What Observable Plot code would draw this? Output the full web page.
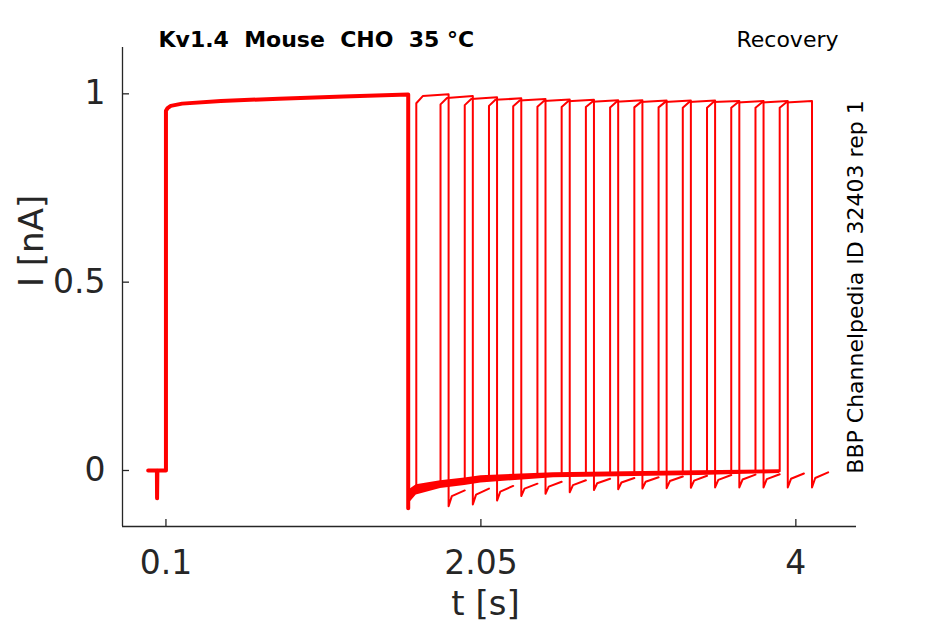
<!DOCTYPE html>
<html><head><meta charset="utf-8">
<script src="https://cdn.jsdelivr.net/npm/d3@7"></script>
<script src="https://cdn.jsdelivr.net/npm/@observablehq/plot@0.6"></script>
<style>
html,body{margin:0;padding:0;background:#fff;}
svg text{white-space:pre;}
</style></head><body><div id="chart"></div>
<script>
// ---- axes ----
const xTicks = [0.1, 2.05, 4];
const yTicks = [0, 0.5, 1];
const xTickLabels = ["0.1", "2.05", "4"];
const yTickLabels = ["0", "0.5", "1"];
const xDomain = [-0.169, 4.3755];
const yDomain = [-0.1487, 1.123];

// ---- holding level + conditioning pulse (shared by every sweep) ----
const pulse1T = [-0.01, 0.044, 0.045, 0.047, 0.1, 0.1, 0.11, 0.13, 0.2, 0.44, 0.8, 1.2, 1.6];
const pulse1I = [0, 0, -0.074, 0, 0, 0.955, 0.962, 0.968, 0.974, 0.981, 0.987, 0.993, 0.998];

// ---- tail after the conditioning pulse (each sweep keeps it up to its test pulse) ----
const tailT = [1.6, 1.604, 1.612, 1.625, 1.65, 1.7, 1.8, 1.95, 2.1, 2.25, 2.4, 2.55, 2.7, 2.85, 3.0, 3.15, 3.3, 3.45, 3.6, 3.75, 3.9];
const tailI = [-0.1, -0.08, -0.07, -0.062, -0.053, -0.045, -0.037, -0.03, -0.022, -0.018, -0.015, -0.012, -0.01, -0.009, -0.008, -0.007, -0.006, -0.005, -0.004, -0.003, -0.002];

// ---- noise envelope of the overlapping tails ----
const bandT  = [1.6, 1.61, 1.65, 1.8, 1.95, 2.05, 2.5, 3.4, 3.9];
const bandLo = [-0.1, -0.085, -0.065, -0.048, -0.04, -0.033, -0.019, -0.013, -0.008];
const bandHi = [-0.06, -0.05, -0.038, -0.027, -0.02, -0.014, -0.006, -0.001, 0.002];

// ---- test pulses (one per sweep) ----
const testStart = [1.65, 1.8, 1.95, 2.1, 2.25, 2.4, 2.55, 2.7, 2.85, 3.0, 3.15, 3.3, 3.45, 3.6, 3.75, 3.9];
const testOffset = [0, 0.04, 0.2];
const testI0 = [0.975, 0.972, 0.97, 0.968, 0.967, 0.966, 0.965, 0.965, 0.964, 0.964, 0.964, 0.963, 0.963, 0.963, 0.963, 0.963];
const testI1 = [0.994, 0.989, 0.986, 0.984, 0.982, 0.981, 0.98, 0.979, 0.979, 0.978, 0.978, 0.978, 0.978, 0.977, 0.977, 0.977];
const testI2 = [0.999, 0.994, 0.991, 0.988, 0.986, 0.985, 0.984, 0.983, 0.983, 0.982, 0.982, 0.982, 0.981, 0.981, 0.981, 0.981];

// ---- tail after each test pulse ----
const hookOffset = [0.2, 0.22, 0.3];
const hookBottom = [-0.095, -0.09, -0.08, -0.068, -0.062, -0.058, -0.052, -0.05, -0.048, -0.047, -0.046, -0.045, -0.045, -0.045, -0.045, -0.045];
const hookMid    = [-0.068, -0.064, -0.056, -0.048, -0.043, -0.039, -0.034, -0.032, -0.03, -0.028, -0.027, -0.025, -0.024, -0.023, -0.022, -0.02];
const hookEnd    = [-0.053, -0.048, -0.041, -0.035, -0.03, -0.026, -0.022, -0.02, -0.018, -0.016, -0.014, -0.012, -0.011, -0.01, -0.008, -0.005];

// ---- build tables ----
const rows = [];
testStart.forEach((s, k) => {
  pulse1T.forEach((t, i) => rows.push({sweep: k, t, I: pulse1I[i]}));
  tailT.forEach((t, i) => { if (t <= s + 1e-9) rows.push({sweep: k, t, I: tailI[i]}); });
  const tv = [testI0[k], testI1[k], testI2[k]];
  testOffset.forEach((o, i) => rows.push({sweep: k, t: s + o, I: tv[i]}));
  const hv = [hookBottom[k], hookMid[k], hookEnd[k]];
  hookOffset.forEach((o, i) => rows.push({sweep: k, t: s + o, I: hv[i]}));
});
const condRows = pulse1T.map((t, i) => ({t, I: pulse1I[i]})).concat([{t: tailT[0], I: tailI[0]}]);
const bandRows = bandT.map((t, i) => ({t, lo: bandLo[i], hi: bandHi[i]}));

const W = 945, H = 624, mL = 122, mR = 89, mT = 47, mB = 98;
const axisColor = "#262626";

const chart = Plot.plot({
  width: W, height: H,
  marginLeft: mL, marginRight: mR, marginTop: mT, marginBottom: mB,
  style: {fontFamily: "DejaVu Sans", background: "#fff"},
  x: {domain: xDomain},
  y: {domain: yDomain},
  marks: [
    Plot.areaY(bandRows, {x: "t", y1: "lo", y2: "hi", fill: "#ff0000"}),
    Plot.line(rows, {x: "t", y: "I", z: "sweep", stroke: "#ff0000", strokeWidth: 2}),
    Plot.line(condRows, {x: "t", y: "I", stroke: "#ff0000", strokeWidth: 4}),
    Plot.ruleX([xDomain[0]], {stroke: axisColor, strokeWidth: 1.3}),
    Plot.ruleY([yDomain[0]], {stroke: axisColor, strokeWidth: 1.3}),
    Plot.tickY(yTicks, {y: d => d, stroke: axisColor, strokeWidth: 1.3, insetRight: W - mL - mR - 7}),
    Plot.tickX(xTicks, {x: d => d, stroke: axisColor, strokeWidth: 1.3, insetTop: H - mT - mB - 7}),
    Plot.axisY({ticks: yTicks, tickFormat: (d, i) => yTickLabels[i], tickSize: 0, tickPadding: 17, fontSize: 33, color: axisColor, label: null}),
    Plot.axisX({ticks: xTicks, tickFormat: (d, i) => xTickLabels[i], tickSize: 0, tickPadding: 24, fontSize: 33, color: axisColor, label: null}),
    Plot.text(["t [s]"], {text: d => d, frameAnchor: "bottom", dx: -4, dy: 78, lineAnchor: "middle", fontSize: 34, fill: axisColor}),
    Plot.text(["I [nA]"], {text: d => d, frameAnchor: "left", dx: -90, rotate: -90, lineAnchor: "middle", fontSize: 34, fill: axisColor}),
    Plot.text(["Kv1.4  Mouse  CHO  35 °C"], {text: d => d, frameAnchor: "top-left", dx: 36, dy: -1, textAnchor: "start", lineAnchor: "bottom", fontSize: 22, fontWeight: "bold", fill: "#000"}),
    Plot.text(["Recovery"], {text: d => d, frameAnchor: "top-right", dx: -18, dy: -1, textAnchor: "end", lineAnchor: "bottom", fontSize: 22, fill: "#000"}),
    Plot.text(["BBP Channelpedia ID 32403 rep 1"], {text: d => d, frameAnchor: "right", dx: 6, rotate: -90, textAnchor: "middle", lineAnchor: "bottom", fontSize: 22, fill: "#000"})
  ]
});
document.getElementById("chart").appendChild(chart);
</script>
</body></html>
